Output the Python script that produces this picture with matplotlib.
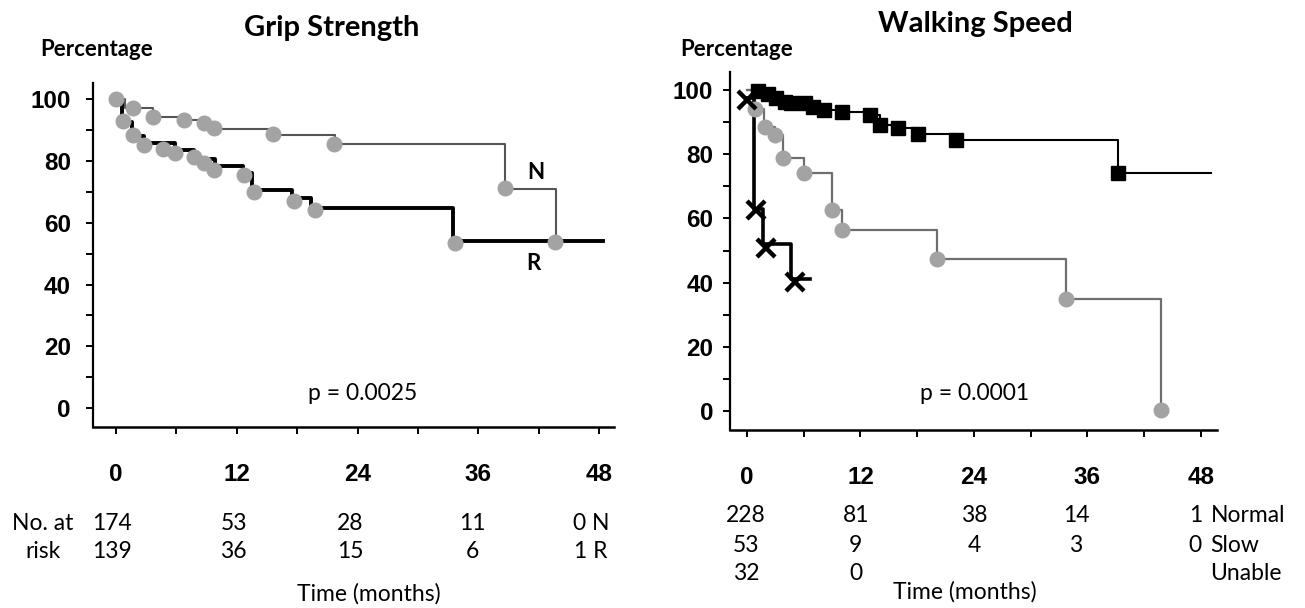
import matplotlib
matplotlib.use("Agg")
import matplotlib.pyplot as plt
from matplotlib.ticker import MultipleLocator
from matplotlib.transforms import blended_transform_factory

plt.rcParams['font.family'] = ['Lato', 'DejaVu Sans']

# ---- Grip strength ----
grip_n_t = [0, 0.9, 3.7, 6.4, 8.7, 9.7, 15.6, 21.8, 38.7, 43.7]
grip_n_s = [100, 97, 94.2, 93.1, 92, 90.3, 88.5, 85.4, 71, 54]
grip_n_mt = [0, 1.7, 3.7, 6.7, 8.7, 9.7, 15.6, 21.7, 38.7, 43.6]
grip_n_ms = [100, 97.2, 94.3, 93.2, 92.1, 90.5, 88.7, 85.4, 71.1, 53.8]

grip_r_t = [0, 0.6, 1.6, 2.8, 5.9, 7.7, 9.8, 12.6, 13.5, 17.5, 19.4, 33.5, 48.4]
grip_r_s = [100, 92.5, 88, 85.8, 83.5, 80.5, 78.4, 76, 70.5, 67.9, 64.6, 54, 54]
grip_r_mt = [0.7, 1.7, 2.8, 4.7, 5.9, 7.7, 8.7, 9.7, 12.7, 13.7, 17.7, 19.8, 33.7]
grip_r_ms = [92.9, 88.3, 85.1, 84, 82.6, 81.3, 79.2, 77, 75.3, 70, 67.1, 64.1, 53.3]

# ---- Walking speed ----
walk_norm_t = [0, 1.2, 2.2, 3.1, 4.0, 6.1, 7.0, 8.1, 10.0, 13.0, 14.1, 16.0, 18.1, 22.1, 39.2, 49.1]
walk_norm_s = [100, 100, 99, 97.4, 96.4, 95.9, 94.8, 93.8, 93.2, 92.2, 89.1, 88.1, 86.2, 84.4, 74, 74]
walk_norm_mt = [1.2, 2.2, 3.1, 4.0, 4.6, 6.1, 7.0, 8.1, 10.0, 13.0, 14.1, 16.0, 18.1, 22.1, 39.2]
walk_norm_ms = [99.8, 98.8, 97.4, 96.4, 96.0, 95.8, 94.8, 93.8, 93.2, 92.2, 89.1, 88.1, 86.2, 84.4, 74]

walk_slow_t = [0, 0.85, 1.8, 3.0, 3.8, 6.0, 9.0, 10.0, 20.1, 33.7, 43.8]
walk_slow_s = [100, 94, 88.6, 86, 78.7, 74, 62.6, 56.4, 47.3, 35, 0]
walk_slow_mt = [0.85, 1.9, 3.0, 3.8, 6.0, 9.0, 10.0, 20.1, 33.7, 43.8]
walk_slow_ms = [94, 88.6, 86, 78.7, 74, 62.6, 56.4, 47.3, 35, 0.2]

walk_unable_t = [0, 0.75, 1.65, 4.7, 6.7]
walk_unable_s = [97.5, 63, 52, 41, 41]
walk_unable_mt = [0, 1.0, 2.0, 5.1]
walk_unable_ms = [97, 62.6, 50.7, 40.3]

time_ticks = [0, 12, 24, 36, 48]
pct_ticks = [0, 20, 40, 60, 80, 100]

grip_risk_n = [174, 53, 28, 11, 0]
grip_risk_r = [139, 36, 15, 6, 1]
walk_risk_normal = [228, 81, 38, 14, 1]
walk_risk_slow = [53, 9, 4, 3, 0]
walk_risk_unable = [32, 0]

W, H = 1305, 608
fig = plt.figure(figsize=(W / 100, H / 100), dpi=100)
FS = 16.5  # body text size


def px_axes(x0, x1, y0, y1):
    return fig.add_axes([x0 / W, 1 - y1 / H, (x1 - x0) / W, (y1 - y0) / H])


def ftext(x, y, s, **kw):
    fig.text(x / W, 1 - y / H, s, **kw)


def style(ax, xlim, ylim, ypad):
    for s in ['top', 'right']:
        ax.spines[s].set_visible(False)
    ax.spines['left'].set_linewidth(1.6)
    ax.spines['bottom'].set_linewidth(1.8)
    tick_font = dict(fontsize=17.5, fontweight='bold', fontfamily=['Liberation Sans', 'DejaVu Sans'])
    ax.set_xticks(time_ticks, [str(t) for t in time_ticks], **tick_font)
    ax.set_yticks(pct_ticks, [str(p) for p in pct_ticks], **tick_font)
    ax.xaxis.set_minor_locator(MultipleLocator(6))
    ax.yaxis.set_minor_locator(MultipleLocator(10))
    ax.set_xlim(*xlim)
    ax.set_ylim(*ylim)
    ax.tick_params(which='both', direction='out', length=5, width=1.4)
    ax.tick_params(axis='x', pad=21)
    ax.tick_params(axis='y', pad=ypad)


gray = '#a3a3a3'

# ---------------- left panel ----------------
ax1 = px_axes(93, 614, 83, 427)
ax1.plot(grip_n_t, grip_n_s, drawstyle='steps-post', color='#555555', lw=1.5)
ax1.plot(grip_r_t, grip_r_s, drawstyle='steps-post', color='black', lw=2.8)
ax1.plot(grip_n_mt, grip_n_ms, 'o', color=gray, ms=10.5, mec=gray)
ax1.plot(grip_r_mt, grip_r_ms, 'o', color=gray, ms=10.5, mec=gray)
style(ax1, (-2.3, 49.5), (-6.1, 105.2), 11)
ax1.text(24.5, 4.9, 'p = 0.0025', ha='center', va='center', fontsize=FS)
ax1.text(41.7, 76.2, 'N', ha='center', va='center', fontsize=16, fontweight='bold')
ax1.text(41.5, 46.8, 'R', ha='center', va='center', fontsize=16, fontweight='bold')

ftext(332, 28, 'Grip Strength', ha='center', va='center', fontsize=21, fontweight='bold')
ftext(40, 50, 'Percentage', ha='left', va='center', fontsize=16, fontweight='bold')

tr1 = blended_transform_factory(ax1.transData, fig.transFigure)
grip_cols = [-0.4, 11.7, 23.3, 35.4]
for x, a, b in zip(grip_cols, grip_risk_n[:4], grip_risk_r[:4]):
    ax1.text(x, 1 - 523 / H, str(a), transform=tr1, ha='center', va='center', fontsize=FS)
    ax1.text(x, 1 - 551 / H, str(b), transform=tr1, ha='center', va='center', fontsize=FS)
ax1.text(47.2, 1 - 523 / H, f'{grip_risk_n[4]} N', transform=tr1, ha='center', va='center', fontsize=FS)
ax1.text(47.2, 1 - 551 / H, f'{grip_risk_r[4]} R', transform=tr1, ha='center', va='center', fontsize=FS)
ftext(43, 523, 'No. at', ha='center', va='center', fontsize=FS)
ftext(43, 551, 'risk', ha='center', va='center', fontsize=FS)
ftext(369, 594, 'Time (months)', ha='center', va='center', fontsize=FS)

# ---------------- right panel ----------------
ax2 = px_axes(730, 1217, 72, 430)
ax2.plot(walk_norm_t, walk_norm_s, drawstyle='steps-post', color='black', lw=1.5)
ax2.plot(walk_slow_t, walk_slow_s, drawstyle='steps-post', color='#6e6e6e', lw=1.6)
ax2.plot(walk_unable_t, walk_unable_s, drawstyle='steps-post', color='black', lw=2.6)
ax2.plot(walk_slow_mt, walk_slow_ms, 'o', color=gray, ms=10.5, mec=gray)
ax2.plot(walk_norm_mt, walk_norm_ms, 's', color='black', ms=10)
ax2.plot(walk_unable_mt, walk_unable_ms, 'x', color='black', ms=13, mew=3.2)
style(ax2, (-1.8, 49.7), (-5.9, 105.6), 7)
ax2.text(24.1, 5.6, 'p = 0.0001', ha='center', va='center', fontsize=FS)

ftext(975, 24, 'Walking Speed', ha='center', va='center', fontsize=21, fontweight='bold')
ftext(680, 50, 'Percentage', ha='left', va='center', fontsize=16, fontweight='bold')

tr2 = blended_transform_factory(ax2.transData, fig.transFigure)
walk_cols = [-0.1, 11.5, 24.0, 34.8]
for x, a, b in zip(walk_cols, walk_risk_normal[:4], walk_risk_slow[:4]):
    ax2.text(x, 1 - 515 / H, str(a), transform=tr2, ha='center', va='center', fontsize=FS)
    ax2.text(x, 1 - 545 / H, str(b), transform=tr2, ha='center', va='center', fontsize=FS)
for x, c in zip(walk_cols[:2], walk_risk_unable):
    ax2.text(x, 1 - 573 / H, str(c), transform=tr2, ha='center', va='center', fontsize=FS)
ax2.text(47.4, 1 - 515 / H, str(walk_risk_normal[4]), transform=tr2, ha='center', va='center', fontsize=FS)
ax2.text(47.4, 1 - 545 / H, str(walk_risk_slow[4]), transform=tr2, ha='center', va='center', fontsize=FS)
ax2.text(49.0, 1 - 515 / H, 'Normal', transform=tr2, ha='left', va='center', fontsize=FS)
ax2.text(49.0, 1 - 545 / H, 'Slow', transform=tr2, ha='left', va='center', fontsize=FS)
ax2.text(49.0, 1 - 573 / H, 'Unable', transform=tr2, ha='left', va='center', fontsize=FS)
ftext(965, 592, 'Time (months)', ha='center', va='center', fontsize=FS)

fig.savefig('out.png', dpi=100)
